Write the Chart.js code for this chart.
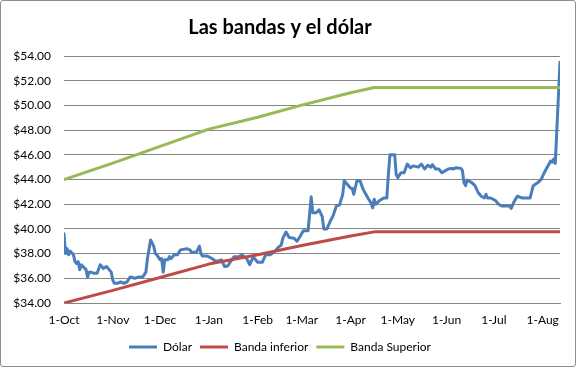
<!DOCTYPE html>
<html>
<head>
<meta charset="utf-8">
<script src="https://cdn.jsdelivr.net/npm/chart.js@4/dist/chart.umd.min.js"></script>
<style>
  html, body { margin: 0; padding: 0; background: #fff; }
  #wrap { position: relative; width: 576px; height: 367px; }
  #chart { position: absolute; left: 0; top: 0; }
  #frame { position: absolute; left: 0; top: 0; width: 576px; height: 367px; box-sizing: border-box;
           border: 1px solid #8e8e8e; border-radius: 3px; pointer-events: none; }
</style>
</head>
<body>
<div id="wrap">
  <canvas id="chart" width="576" height="367"></canvas>
  <div id="frame"></div>
</div>
<script>
// days counted from 1-Oct
const monthDays = [0, 31, 61, 92, 123, 151, 182, 212, 243, 273, 304];
const monthLabels = ["1-Oct", "1-Nov", "1-Dec", "1-Jan", "1-Feb", "1-Mar", "1-Apr", "1-May", "1-Jun", "1-Jul", "1-Aug"];

const dolarDays = [
  0, 1, 2, 3, 4, 6, 7, 8, 9, 10, 11, 14, 15, 16, 17, 19, 21, 23, 25, 27, 30,
  31, 32, 34, 36, 38, 40, 42, 45, 47, 50, 52, 53, 55, 56, 57, 58, 59,
  61, 62, 63, 64, 66, 67, 68, 70, 72, 74, 78, 80, 81, 84, 86, 87, 88, 91,
  94, 96, 98, 100, 102, 104, 106, 108, 111, 113, 116, 118, 120, 121,
  123, 126, 128, 131, 134, 136, 138, 139, 141, 143, 146, 148, 150,
  152, 155, 157, 158, 160, 162, 164, 165, 167, 169, 171, 173, 175, 177, 178, 180,
  182, 183, 184, 186, 188, 190, 193, 195, 196, 197, 198, 200, 203, 205, 206, 207, 210,
  211, 212, 214, 216, 218, 220, 222, 225, 227, 229, 231, 233, 234, 236, 238, 240,
  242, 244, 246, 247, 249, 252, 253, 254, 255, 256, 259, 261, 263, 265, 267, 268, 269, 271,
  274, 276, 278, 281, 283, 284, 286, 288, 291, 294, 296, 298, 301, 303,
  305, 308, 309, 310, 311, 312, 315
];
const dolarValues = [
  39.6, 38.0, 38.4, 37.9, 38.2, 37.9, 37.35, 37.2, 37.35, 36.7, 37.1, 36.7, 36.1, 36.5, 36.5, 36.4, 36.4, 37.1, 36.8, 36.95, 36.5,
  35.85, 35.6, 35.6, 35.7, 35.6, 35.7, 36.1, 36.0, 36.1, 36.1, 36.5, 37.6, 39.1, 38.85, 38.6, 38.0, 37.9,
  37.5, 37.6, 36.5, 37.5, 37.5, 37.75, 37.6, 37.9, 37.9, 38.3, 38.4, 38.3, 38.1, 38.1, 38.6, 38.0, 37.8, 37.8,
  37.6, 37.4, 37.4, 37.5, 36.95, 37.0, 37.4, 37.75, 37.75, 37.9, 37.6, 37.1, 37.7, 37.6,
  37.3, 37.3, 37.9, 37.9, 38.2, 38.5, 38.7, 39.25, 39.75, 39.3, 39.25, 39.0, 39.4,
  39.85, 39.85, 42.6, 41.3, 41.3, 41.55, 41.0, 40.0, 40.0, 40.6, 41.1, 41.85, 41.95, 42.8, 43.9, 43.6,
  43.3, 43.3, 42.8, 43.9, 43.9, 43.2, 42.5, 42.1, 41.7, 42.4, 42.0, 42.25, 42.5, 42.5, 44.4, 46.0, 46.0,
  44.4, 44.15, 44.55, 44.55, 45.25, 44.95, 45.1, 45.0, 45.25, 44.85, 45.15, 45.0, 45.2, 44.85, 44.85, 44.55,
  44.7, 44.85, 44.9, 44.85, 44.95, 44.9, 44.75, 43.75, 43.5, 43.95, 43.75, 43.5, 42.95, 42.65, 42.5, 42.8, 42.5, 42.5,
  42.3, 42.0, 41.85, 41.85, 41.85, 41.65, 42.25, 42.65, 42.5, 42.5, 42.5, 43.5, 43.75, 44.0,
  44.55, 45.25, 45.5, 45.4, 45.65, 45.3, 53.5
];

const bandDays = [0, 31, 61, 92, 123, 151, 182, 197, 315];
const bandInferior = [34.0, 35.02, 36.07, 37.15, 37.9, 38.66, 39.43, 39.76, 39.76];
const bandSuperior = [44.0, 45.32, 46.68, 48.08, 49.04, 50.02, 51.02, 51.45, 51.45];

const pts = (xs, ys) => xs.map((x, i) => ({ x: x, y: ys[i] }));
const FONT = "Lato, 'Liberation Sans', sans-serif";
const GRID = "#868686";

function lineSet(label, data, color, order) {
  return {
    label: label,
    data: data,
    borderColor: color,
    backgroundColor: color,
    borderWidth: 3,
    pointRadius: 0,
    tension: 0,
    borderJoinStyle: "round",
    borderCapStyle: "round",
    fill: false,
    order: order,
  };
}

new Chart(document.getElementById("chart"), {
  type: "line",
  data: {
    datasets: [
      lineSet("Dólar", pts(dolarDays, dolarValues), "#4A7EBB", 3),
      lineSet("Banda inferior", pts(bandDays, bandInferior), "#BE4B48", 2),
      lineSet("Banda Superior", pts(bandDays, bandSuperior), "#98B954", 1),
    ],
  },
  options: {
    responsive: false,
    animation: false,
    layout: { padding: { left: 0, right: 16, top: 0, bottom: 4 } },
    plugins: {
      title: {
        display: true,
        text: "Las bandas y el dólar",
        color: "#000",
        font: { family: FONT, size: 20, weight: "bold" },
        padding: { top: 16, bottom: 16 },
      },
      legend: {
        position: "bottom",
        labels: {
          usePointStyle: true,
          pointStyle: "line",
          pointStyleWidth: 28,
          color: "#000",
          font: { family: FONT, size: 12 },
          padding: 8,
          sort: (a, b) => a.datasetIndex - b.datasetIndex,
        },
      },
      tooltip: { enabled: false },
    },
    scales: {
      x: {
        type: "linear",
        min: 0,
        max: 315,
        afterBuildTicks: (axis) => {
          axis.ticks = monthDays.map((v) => ({ value: v }));
        },
        afterFit: (axis) => {
          axis.height = 30;
        },
        grid: { display: false, drawTicks: false },
        border: { display: true, color: GRID, width: 1 },
        ticks: {
          autoSkip: false,
          maxRotation: 0,
          padding: 10,
          color: "#000",
          font: { family: FONT, size: 12 },
          callback: (v) => monthLabels[monthDays.indexOf(v)] || "",
        },
      },
      y: {
        min: 34,
        max: 54,
        afterFit: (axis) => {
          axis.width = 64;
        },
        grid: { color: GRID, lineWidth: 1, drawTicks: false },
        border: { display: false },
        ticks: {
          stepSize: 2,
          padding: 13,
          color: "#000",
          font: { family: FONT, size: 12 },
          callback: (v) => "$" + v.toFixed(2),
        },
      },
    },
  },
});
</script>
</body>
</html>
